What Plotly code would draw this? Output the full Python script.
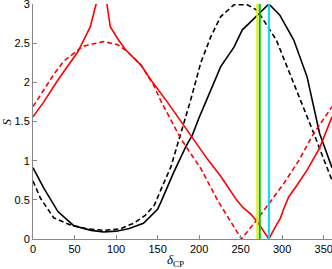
import plotly.graph_objects as go

# Black solid
bs_x = [0, 13, 30, 49, 70, 85, 100, 115, 133, 150, 154, 169, 184, 192, 200, 210, 226, 242, 252, 258, 265, 272, 284, 297, 314, 330, 345, 360]
bs_y = [0.91, 0.65, 0.35, 0.17, 0.11, 0.09, 0.10, 0.13, 0.20, 0.38, 0.47, 0.84, 1.18, 1.33, 1.55, 1.80, 2.20, 2.45, 2.67, 2.73, 2.80, 2.88, 3.0, 2.86, 2.54, 2.07, 1.35, 0.91]

# Black dashed
bd_x = [0, 9, 25, 45, 65, 85, 105, 121, 135, 146, 154, 166, 178, 190, 202, 214, 226, 242, 258, 270, 293, 314, 338, 350, 360]
bd_y = [0.74, 0.52, 0.27, 0.18, 0.13, 0.11, 0.13, 0.20, 0.30, 0.43, 0.63, 0.92, 1.35, 1.78, 2.25, 2.58, 2.84, 2.99, 2.99, 2.92, 2.54, 1.99, 1.35, 1.02, 0.75]

# Red solid
rs_x = [0, 13, 30, 41, 54, 63, 69, 76, 82, 89, 93, 103, 112, 130, 144, 161, 181, 192, 210, 226, 235, 245, 253, 262, 270, 284, 290, 298, 302, 308, 318, 330, 345, 360]
rs_y = [1.56, 1.75, 2.03, 2.20, 2.39, 2.58, 2.71, 3.0, 3.8, 3.0, 2.71, 2.54, 2.41, 2.22, 2.0, 1.76, 1.46, 1.30, 1.02, 0.80, 0.66, 0.50, 0.40, 0.32, 0.22, 0.0, 0.12, 0.27, 0.39, 0.54, 0.69, 0.88, 1.16, 1.56]

# Red dashed
rd_x = [0, 12, 25, 37, 51, 60, 85, 102, 114, 130, 145, 154, 178, 202, 223, 238, 251, 270, 302, 320, 337, 360]
rd_y = [1.69, 1.88, 2.10, 2.27, 2.39, 2.46, 2.52, 2.48, 2.39, 2.22, 1.97, 1.76, 1.28, 0.90, 0.48, 0.23, 0.0, 0.25, 0.71, 1.0, 1.33, 1.69]

# Vertical markers (delta_CP values)
vlines = [(270, "#f0f000"), (273, "#00c000"), (284, "#00e0f0")]

x_ticks = [0, 50, 100, 150, 200, 250, 300, 350]
y_ticks = [0, 0.5, 1, 1.5, 2, 2.5, 3]
y_ticklabels = ["0", "0.5", "1", "1.5", "2", "2.5", "3"]

fig = go.Figure()
fig.add_trace(go.Scatter(x=bs_x, y=bs_y, mode="lines", line=dict(color="black", width=1.6)))
fig.add_trace(go.Scatter(x=bd_x, y=bd_y, mode="lines", line=dict(color="black", width=1.6, dash="5px,3px")))
fig.add_trace(go.Scatter(x=rs_x, y=rs_y, mode="lines", line=dict(color="#ff0000", width=1.6)))
fig.add_trace(go.Scatter(x=rd_x, y=rd_y, mode="lines", line=dict(color="#ff0000", width=1.6, dash="5px,3px")))
for xv, col in vlines:
    fig.add_trace(go.Scatter(x=[xv, xv], y=[0, 3], mode="lines", line=dict(color=col, width=2)))

axis_common = dict(showgrid=False, zeroline=False, showline=True, linecolor="#888888", linewidth=1,
                   ticks="inside", ticklen=4, tickcolor="#888888", automargin=False,
                   ticklabeloverflow="allow",
                   tickfont=dict(family="Liberation Sans", size=11, color="black"))
fig.update_layout(
    width=332, height=269,
    margin=dict(l=33, r=0, t=4, b=30),
    plot_bgcolor="white", paper_bgcolor="white",
    showlegend=False,
    xaxis=dict(range=[0, 360], tickvals=x_ticks, **axis_common),
    yaxis=dict(range=[0, 3], tickvals=y_ticks, ticktext=y_ticklabels, **axis_common),
)
fig.add_annotation(text="<i>δ</i><sub>CP</sub>", x=0.475, y=-0.046, xref="paper", yref="paper", xanchor="center", yanchor="top",
                   showarrow=False, font=dict(family="Liberation Serif", size=13, color="black"))
fig.add_annotation(text="<i>S</i>", x=-0.087, y=0.5, xref="paper", yref="paper", xanchor="center", yanchor="middle",
                   showarrow=False, textangle=-90, font=dict(family="Liberation Serif", size=13, color="black"))
fig.write_html("out.html", config={"displayModeBar": False},
               post_script="document.body.style.margin='0';document.body.style.overflow='hidden';")
